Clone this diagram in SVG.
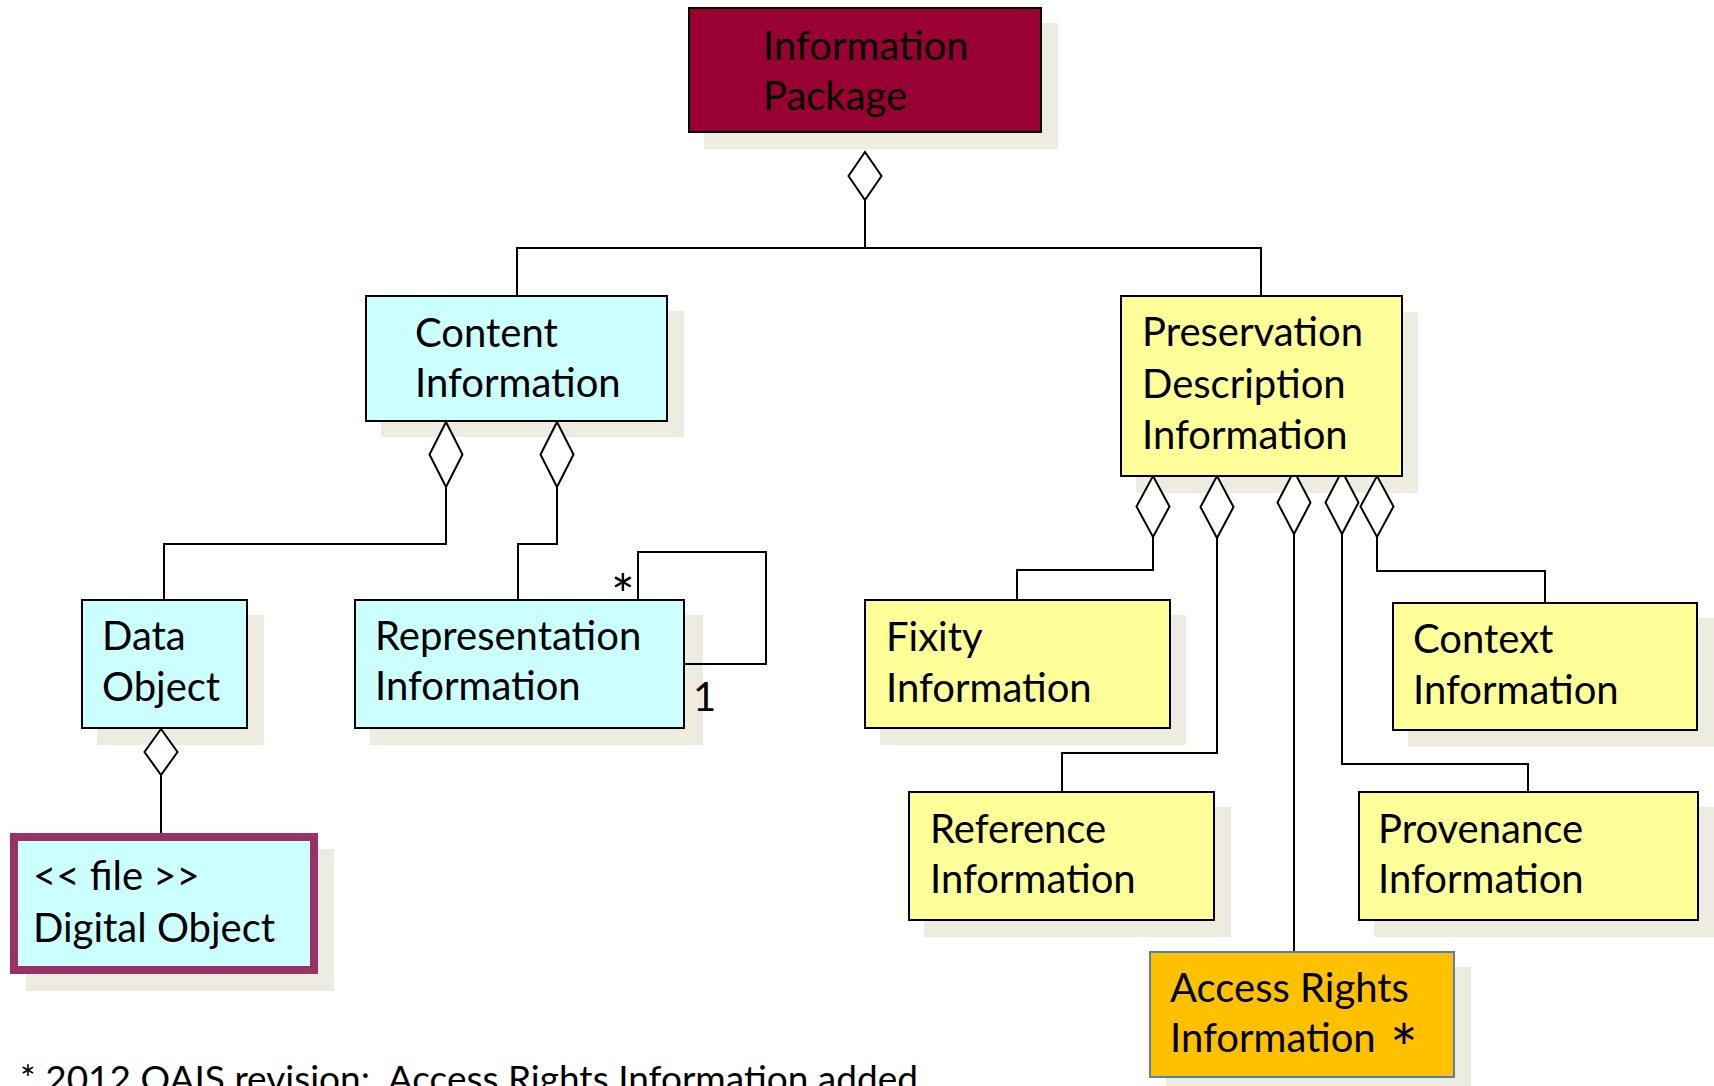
<svg xmlns="http://www.w3.org/2000/svg" width="1714" height="1086" viewBox="0 0 1714 1086">
<style>
  .shadow { fill: #EEEBE0; stroke: none; }
  .box { stroke: #000; stroke-width: 2; }
  .cyan { fill: #CCFFFF; }
  .yellow { fill: #FFFF99; }
  .lbl { font-family: Lato, "Liberation Sans", sans-serif; font-size: 40px; fill: #000; }
  .star { font-family: Lato, "Liberation Sans", sans-serif; fill: #000; text-anchor: middle; }
  .foot { font-family: Lato, "Liberation Sans", sans-serif; font-size: 37px; fill: #000; white-space: pre; }
  .conn { fill: none; stroke: #000; stroke-width: 2; }
  .dia { fill: #fff; stroke: #000; stroke-width: 2; stroke-linejoin: miter; }
</style>
<rect x="0" y="0" width="1714" height="1086" fill="#fff"/>

<g id="shadows">
  <rect class="shadow" x="704" y="23" width="354" height="126"/>
  <rect class="shadow" x="381" y="311" width="303" height="126"/>
  <rect class="shadow" x="97" y="615" width="167" height="130"/>
  <rect class="shadow" x="370" y="615" width="333" height="130"/>
  <rect class="shadow" x="26" y="849" width="308" height="142"/>
  <rect class="shadow" x="1136" y="312" width="282" height="181"/>
  <rect class="shadow" x="880" y="615" width="306" height="130"/>
  <rect class="shadow" x="1408" y="618" width="306" height="129"/>
  <rect class="shadow" x="924" y="807" width="307" height="130"/>
  <rect class="shadow" x="1374" y="807" width="340" height="130"/>
  <rect class="shadow" x="1166" y="967" width="305" height="119"/>
</g>

<g id="connectors">
  <path class="conn" d="M865,200 V248 M517,296 V248 H1261 V296"/>
  <path class="conn" d="M446,487 V544 H164 V600"/>
  <path class="conn" d="M557,487 V544 H518 V600"/>
  <path class="conn" d="M161,775 V834"/>
  <path class="conn" d="M638,600 V552 H766 V664 H685"/>
  <path class="conn" d="M1153,537 V570 H1017 V600"/>
  <path class="conn" d="M1217,538 V753 H1062 V792"/>
  <path class="conn" d="M1294,534 V952"/>
  <path class="conn" d="M1342,534 V764 H1528 V792"/>
  <path class="conn" d="M1377,537 V571 H1545 V603"/>
  <polygon class="dia" points="865,152 881.5,176 865,200 848.5,176"/>
  <polygon class="dia" points="446,422 462.5,454.5 446,487 429.5,454.5"/>
  <polygon class="dia" points="557,422 573.5,454.5 557,487 540.5,454.5"/>
  <polygon class="dia" points="161,729 177.5,752 161,775 144.5,752"/>
  <polygon class="dia" points="1153,476 1169.5,506.5 1153,537 1136.5,506.5"/>
  <polygon class="dia" points="1217,476 1233.5,507 1217,538 1200.5,507"/>
  <polygon class="dia" points="1294,471 1310.5,502.5 1294,534 1277.5,502.5"/>
  <polygon class="dia" points="1342,471 1358.5,502.5 1342,534 1325.5,502.5"/>
  <polygon class="dia" points="1377,476 1393.5,506.5 1377,537 1360.5,506.5"/>
  <text class="star" x="623" y="615" font-size="56">*</text>
  <text class="lbl" x="693" y="711">1</text>
</g>

<g id="information-package">
  <rect class="box" x="689" y="8" width="352" height="124" fill="#990033"/>
  <text class="lbl" x="763" y="60">Information</text>
  <text class="lbl" x="763" y="110">Package</text>
</g>

<g id="content-information">
  <rect class="box cyan" x="366" y="296" width="301" height="125"/>
  <text class="lbl" x="415" y="347">Content</text>
  <text class="lbl" x="415" y="397">Information</text>
</g>

<g id="data-object">
  <rect class="box cyan" x="82" y="600" width="165" height="128"/>
  <text class="lbl" x="102" y="650">Data</text>
  <text class="lbl" x="102" y="701">Object</text>
</g>

<g id="representation-information">
  <rect class="box cyan" x="355" y="600" width="329" height="128"/>
  <text class="lbl" x="375" y="650">Representation</text>
  <text class="lbl" x="375" y="700">Information</text>
</g>

<g id="digital-object">
  <rect x="14" y="837" width="300" height="133" fill="#CCFFFF" stroke="#993366" stroke-width="8"/>
  <text class="lbl" x="33" y="890">&lt;&lt; file &gt;&gt;</text>
  <text class="lbl" x="33" y="942">Digital Object</text>
</g>

<g id="preservation-description-information">
  <rect class="box yellow" x="1121" y="296" width="281" height="180"/>
  <text class="lbl" x="1142" y="346">Preservation</text>
  <text class="lbl" x="1142" y="398">Description</text>
  <text class="lbl" x="1142" y="449">Information</text>
</g>

<g id="fixity-information">
  <rect class="box yellow" x="865" y="600" width="305" height="128"/>
  <text class="lbl" x="886" y="651">Fixity</text>
  <text class="lbl" x="886" y="702">Information</text>
</g>

<g id="context-information">
  <rect class="box yellow" x="1393" y="603" width="304" height="127"/>
  <text class="lbl" x="1413" y="653">Context</text>
  <text class="lbl" x="1413" y="704">Information</text>
</g>

<g id="reference-information">
  <rect class="box yellow" x="909" y="792" width="305" height="128"/>
  <text class="lbl" x="930" y="843">Reference</text>
  <text class="lbl" x="930" y="893">Information</text>
</g>

<g id="provenance-information">
  <rect class="box yellow" x="1359" y="792" width="339" height="128"/>
  <text class="lbl" x="1378" y="843">Provenance</text>
  <text class="lbl" x="1378" y="893">Information</text>
</g>

<g id="access-rights-information">
  <rect x="1150" y="952" width="304" height="125" fill="#FFC000" stroke="#4F81BD" stroke-width="2"/>
  <text class="lbl" x="1170" y="1002">Access Rights</text>
  <text class="lbl" x="1170" y="1052">Information<tspan x="1404" y="1073" font-size="66" text-anchor="middle">*</tspan></text>
</g>

<g id="footnote">
  <text class="foot" x="20" y="1092">* 2012 OAIS revision:  Access Rights Information added</text>
</g>
</svg>
